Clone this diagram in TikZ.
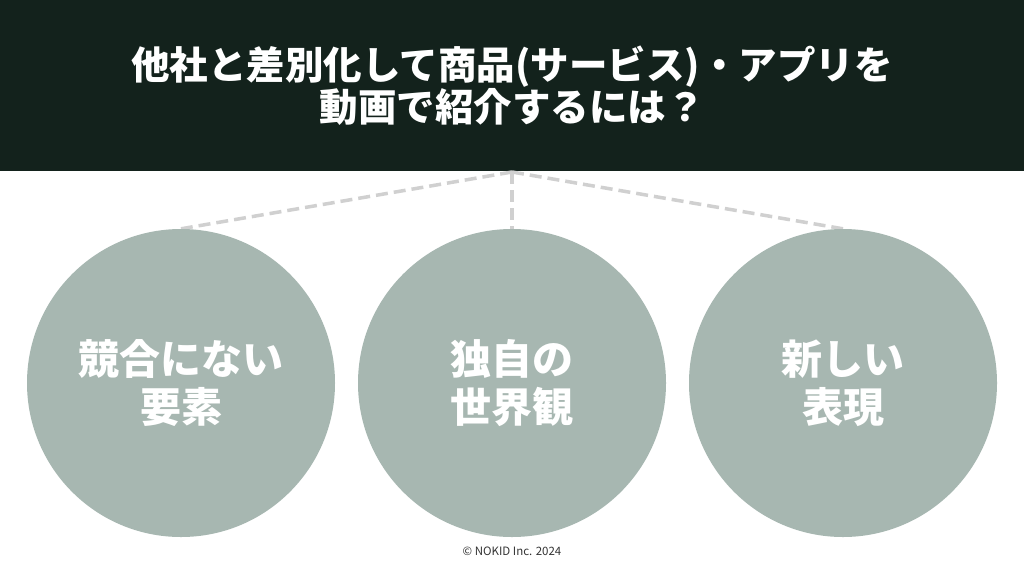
\documentclass[tikz,border=0pt]{standalone}
\usepackage{fontspec}
\newfontfamily\cjk{Noto Sans CJK JP}
\usetikzlibrary{positioning,backgrounds}
\definecolor{bandgreen}{HTML}{13221C}
\definecolor{circlegray}{HTML}{A7B7B1}
\definecolor{dashgray}{HTML}{D0D0D0}
\tikzset{
  pointcircle/.style={circle, fill=circlegray, minimum size=308pt, inner sep=0pt, align=center, text=white, font=\cjk\bfseries\fontsize{41}{48}\selectfont},
  titletext/.style={align=center, text=white, font=\cjk\bfseries\fontsize{38.5}{42}\selectfont},
  branch/.style={draw=dashgray, line width=3.5pt, dash pattern=on 12pt off 6pt},
  footnote/.style={font=\cjk\fontsize{11.5}{13}\selectfont, text=black!80}
}
\begin{document}
\begin{tikzpicture}[x=1pt, y=-1pt]
      \useasboundingbox (0,0) rectangle (1024,576);
      \node[titletext] (title) at (512,86) {他社と差別化して商品(サービス)・アプリを\\動画で紹介するには？};
      \coordinate (hub) at (512,172);
      \node[pointcircle] (rival) at (181,383) {競合にない\\要素};
      \node[pointcircle] (world) at (512,383) {独自の\\世界観};
      \node[pointcircle] (fresh) at (843,383) {新しい\\表現};
      \node[footnote] (copy) at (512,551) {© NOKID Inc. 2024};
      % band and dashed branches behind
      \begin{scope}[on background layer]
        \fill[white] (0,0) rectangle (1024,576);
        \fill[bandgreen] (0,0) rectangle (1024,171);
        \draw[branch] (hub) -- (rival.north);
        \draw[branch] (hub) -- (world.north);
        \draw[branch] (hub) -- (fresh.north);
      \end{scope}
    \end{tikzpicture}
\end{document}
